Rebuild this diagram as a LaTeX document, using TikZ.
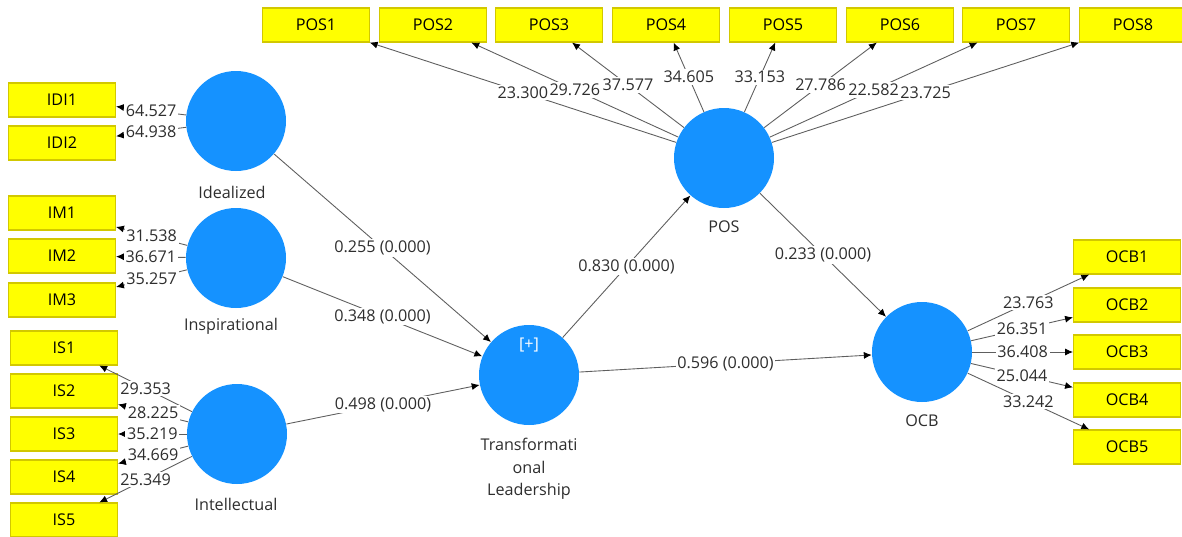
\documentclass[tikz,border=0pt]{standalone}
\usepackage{fontspec}
\setmainfont{Open Sans}
\usetikzlibrary{arrows.meta}
\definecolor{plsblue}{HTML}{1592FF}
\definecolor{plsyellow}{HTML}{FFFF00}
\definecolor{plsedge}{HTML}{D2C800}
\definecolor{plsline}{HTML}{5E5E5E}
\definecolor{plstext}{HTML}{2E2E2E}

\begin{document}
\begin{tikzpicture}[x=0.2mm, y=-0.2mm,
    font=\fontsize{9.2pt}{11pt}\selectfont,
    >={Latex[length=4.5pt,width=4pt,color=black]},
    latent/.style={circle, fill=plsblue, minimum size=2cm, inner sep=0pt},
    indicator/.style={rectangle, fill=plsyellow, draw=plsedge, line width=0.6pt,
      minimum width=2.14cm, minimum height=0.68cm, inner sep=0pt, text=black},
    link/.style={->, draw=plsline, line width=0.5pt},
    coef/.style={fill=white, inner sep=1pt, text=plstext},
    caption/.style={text=plstext, align=center}]

  \fill[white] (0,0) rectangle (1182,536);
  \useasboundingbox (0,0) rectangle (1182,536);

  % --- latent variables
  \node[latent] (idl)    at (236,121) {};
  \node[latent] (insp)   at (236,258) {};
  \node[latent] (intl)   at (237,434) {};
  \node[latent] (tfl)    at (529,375) {};
  \node[latent] (possup) at (724,158) {};
  \node[latent] (ocb)    at (922,352) {};

  \node[caption] (idl-lab)    at (232,192) {Idealized};
  \node[caption] (insp-lab)   at (231,326) {Inspirational};
  \node[caption] (intl-lab)   at (236,504) {Intellectual};
  \node[caption,font=\fontsize{9.2pt}{12.8pt}\selectfont] (tfl-lab) at (529,469)
       {Transformati\\onal\\Leadership};
  \node[caption] (pos-lab)    at (724,227) {POS};
  \node[caption] (ocb-lab)    at (922,421) {OCB};
  \node[text=white] (tfl-plus) at (529,345) {[+]};

  % --- indicators, left
  \node[indicator] (idi1) at (62,100) {IDI1};
  \node[indicator] (idi2) at (62,143) {IDI2};
  \node[indicator] (im1)  at (62,213) {IM1};
  \node[indicator] (im2)  at (62,256) {IM2};
  \node[indicator] (im3)  at (62,300) {IM3};
  \node[indicator] (is1)  at (64,348) {IS1};
  \node[indicator] (is2)  at (64,391) {IS2};
  \node[indicator] (is3)  at (64,434) {IS3};
  \node[indicator] (is4)  at (64,477) {IS4};
  \node[indicator] (is5)  at (64,520) {IS5};

  % --- indicators, top
  \node[indicator] (pos1) at (316,25) {POS1};
  \node[indicator] (pos2) at (433,25) {POS2};
  \node[indicator] (pos3) at (549,25) {POS3};
  \node[indicator] (pos4) at (666,25) {POS4};
  \node[indicator] (pos5) at (783,25) {POS5};
  \node[indicator] (pos6) at (900,25) {POS6};
  \node[indicator] (pos7) at (1016,25) {POS7};
  \node[indicator] (pos8) at (1133,25) {POS8};

  % --- indicators, right
  \node[indicator] (ocb1) at (1127,257) {OCB1};
  \node[indicator] (ocb2) at (1127,305) {OCB2};
  \node[indicator] (ocb3) at (1127,352) {OCB3};
  \node[indicator] (ocb4) at (1127,400) {OCB4};
  \node[indicator] (ocb5) at (1127,447) {OCB5};

  % --- outer loadings
  \draw[link] (idl) -- (idi1) node[coef,midway] (l-idi1) {64.527};
  \draw[link] (idl) -- (idi2) node[coef,midway] (l-idi2) {64.938};
  \draw[link] (insp) -- (im1) node[coef,midway] (l-im1) {31.538};
  \draw[link] (insp) -- (im2) node[coef,midway] (l-im2) {36.671};
  \draw[link] (insp) -- (im3) node[coef,midway] (l-im3) {35.257};
  \draw[link] (intl) -- (is1) node[coef,midway] (l-is1) {29.353};
  \draw[link] (intl) -- (is2) node[coef,midway] (l-is2) {28.225};
  \draw[link] (intl) -- (is3) node[coef,midway] (l-is3) {35.219};
  \draw[link] (intl) -- (is4) node[coef,midway] (l-is4) {34.669};
  \draw[link] (intl) -- (is5) node[coef,midway] (l-is5) {25.349};

  \draw[link] (possup) -- (pos1) node[coef,midway] (l-pos1) {23.300};
  \draw[link] (possup) -- (pos2) node[coef,midway] (l-pos2) {29.726};
  \draw[link] (possup) -- (pos3) node[coef,midway] (l-pos3) {37.577};
  \draw[link] (possup) -- (pos4) node[coef,midway] (l-pos4) {34.605};
  \draw[link] (possup) -- (pos5) node[coef,midway] (l-pos5) {33.153};
  \draw[link] (possup) -- (pos6) node[coef,midway] (l-pos6) {27.786};
  \draw[link] (possup) -- (pos7) node[coef,midway] (l-pos7) {22.582};
  \draw[link] (possup) -- (pos8) node[coef,midway] (l-pos8) {23.725};

  \draw[link] (ocb) -- (ocb1) node[coef,midway] (l-ocb1) {23.763};
  \draw[link] (ocb) -- (ocb2) node[coef,midway] (l-ocb2) {26.351};
  \draw[link] (ocb) -- (ocb3) node[coef,midway] (l-ocb3) {36.408};
  \draw[link] (ocb) -- (ocb4) node[coef,midway] (l-ocb4) {25.044};
  \draw[link] (ocb) -- (ocb5) node[coef,midway] (l-ocb5) {33.242};

  % --- structural paths
  \draw[link] (idl) -- (tfl) node[coef,midway] (p-idl) {0.255 (0.000)};
  \draw[link] (insp) -- (tfl) node[coef,midway] (p-insp) {0.348 (0.000)};
  \draw[link] (intl) -- (tfl) node[coef,midway] (p-intl) {0.498 (0.000)};
  \draw[link] (tfl) -- (possup) node[coef,midway] (p-pos) {0.830 (0.000)};
  \draw[link] (tfl) -- (ocb) node[coef,midway] (p-ocb) {0.596 (0.000)};
  \draw[link] (possup) -- (ocb) node[coef,midway] (p-posocb) {0.233 (0.000)};
\end{tikzpicture}
\end{document}
